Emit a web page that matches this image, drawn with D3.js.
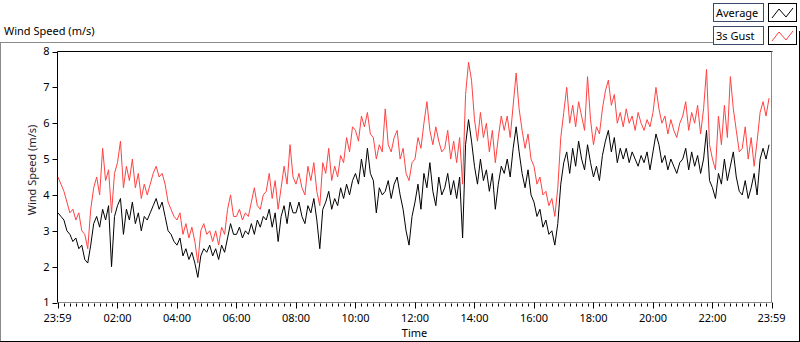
<!DOCTYPE html>
<html>
<head>
<meta charset="utf-8">
<script src="https://cdn.jsdelivr.net/npm/d3@7"></script>
<style>
  body { margin: 0; background: #fff; }
  svg { display: block; font-family: "Segoe UI", "Noto Sans", sans-serif; }
</style>
</head>
<body>
<script>
// one sample every 6 minutes, starting at 00:00
var stepMinutes = 6;

var average = [
  3.5, 3.4, 3.3, 3.0, 2.9, 2.7, 2.8, 2.5, 2.6, 2.2,
  2.1, 2.6, 3.2, 3.4, 3.1, 3.6, 3.3, 3.7, 2.0, 3.4,
  3.7, 3.9, 2.9, 3.6, 3.3, 3.8, 3.2, 3.5, 3.0, 3.4,
  3.3, 3.5, 3.7, 3.9, 3.6, 3.8, 3.4, 3.0, 2.9, 2.7,
  2.6, 2.8, 2.3, 2.5, 2.2, 2.4, 2.1, 1.7, 2.3, 2.5,
  2.4, 2.6, 2.3, 2.5, 2.2, 2.6, 2.4, 2.8, 3.2, 2.9,
  2.9, 3.1, 2.8, 3.0, 2.9, 3.2, 2.9, 3.3, 3.1, 3.4,
  3.3, 3.6, 3.1, 3.5, 2.7, 3.4, 3.7, 3.2, 3.8, 3.5,
  3.5, 3.8, 3.4, 3.2, 3.7, 3.5, 3.9, 3.3, 2.5, 3.6,
  3.8, 4.1, 3.6, 3.9, 3.7, 4.2, 3.9, 4.3, 4.0, 4.4,
  4.6, 4.3, 5.0, 4.5, 5.3, 4.6, 4.4, 3.5, 4.2, 4.0,
  4.1, 4.4, 3.9, 4.3, 4.5, 4.0, 3.6, 3.0, 2.6, 3.4,
  3.8, 4.3, 3.6, 4.6, 4.2, 4.9, 4.1, 3.7, 4.5, 4.0,
  4.2, 4.6, 4.0, 4.4, 3.9, 4.5, 2.8, 5.4, 6.1, 5.5,
  4.8, 4.3, 5.0, 4.4, 4.7, 4.1, 4.6, 3.6, 4.3, 4.8,
  4.6, 5.0, 4.5, 5.3, 5.9, 5.2, 4.6, 4.2, 4.7, 4.0,
  3.8, 3.4, 3.6, 3.1, 3.3, 2.9, 3.0, 2.6, 3.2, 4.3,
  4.9, 5.2, 4.6, 5.3, 4.8, 5.5, 5.0, 4.7, 5.4, 4.9,
  4.5, 4.8, 4.4, 5.1, 5.5, 5.8, 5.2, 5.6, 4.9, 5.3,
  5.0, 5.3, 4.9, 5.2, 5.0, 4.8, 5.1, 4.9, 5.2, 4.7,
  5.2, 5.7, 5.4, 4.9, 5.1, 4.7, 5.0, 4.8, 4.6, 4.9,
  5.0, 5.3, 4.7, 5.2, 4.8, 5.1, 4.6, 5.0, 5.8, 4.4,
  4.2, 3.9, 4.6, 4.3, 5.0, 4.4, 4.8, 5.2, 4.5, 4.1,
  4.0, 4.4, 3.9, 4.2, 4.6, 4.0, 5.0, 5.3, 5.0, 5.4
];

var gust = [
  4.5, 4.3, 4.1, 3.8, 3.5, 3.6, 3.3, 3.5, 3.0, 2.9,
  2.5, 3.6, 4.2, 4.5, 4.0, 5.3, 4.4, 4.7, 3.5, 4.6,
  4.9, 5.5, 4.2, 4.8, 4.4, 5.0, 4.2, 4.6, 3.9, 4.3,
  4.0, 4.3, 4.6, 4.8, 4.5, 4.6, 4.3, 3.8, 3.6, 3.4,
  3.3, 3.5, 2.9, 3.2, 2.8, 3.1, 2.7, 2.1, 3.0, 3.2,
  2.9, 3.0, 2.7, 3.0, 2.6, 3.1, 2.9, 3.6, 4.0, 3.4,
  3.4, 3.6, 3.3, 3.5, 3.4, 3.8, 4.2, 3.7, 3.6, 4.0,
  4.1, 4.6, 3.9, 4.4, 3.6, 4.2, 4.8, 4.3, 5.4, 4.5,
  4.3, 4.6, 4.2, 4.0, 4.8, 4.4, 4.9, 4.1, 3.7, 4.9,
  4.6, 5.3, 4.4, 4.8, 4.5, 5.1, 4.9, 5.6, 5.2, 5.9,
  5.8, 5.5, 6.2, 5.9, 6.3, 5.7, 5.6, 5.0, 5.4, 5.2,
  6.4, 5.4, 5.2, 5.6, 5.8, 5.0, 5.3, 4.6, 4.4, 4.9,
  5.0, 5.6, 5.3, 6.0, 6.6, 5.8, 5.4, 5.9, 5.5, 5.2,
  5.3, 5.8, 5.0, 5.5, 4.9, 5.6, 4.3, 6.8, 7.7, 7.2,
  6.1, 5.5, 6.3, 5.6, 6.0, 5.2, 5.8, 4.9, 5.6, 6.2,
  5.8, 6.2, 5.6, 6.5, 7.4, 6.4, 5.8, 5.3, 5.7, 5.0,
  4.8, 4.3, 4.5, 4.0, 4.1, 3.7, 3.9, 3.4, 4.2, 5.6,
  6.3, 7.0, 6.0, 6.5, 5.9, 6.6, 6.2, 5.8, 7.3, 6.1,
  5.4, 5.9, 5.7, 6.4, 6.9, 7.2, 6.5, 6.8, 6.0, 6.3,
  5.9, 6.4, 6.0, 6.2, 5.8, 6.3, 6.0, 5.8, 6.1, 5.9,
  6.3, 7.0, 6.4, 6.0, 6.2, 5.7, 6.1, 5.8, 5.6, 6.0,
  6.2, 6.6, 5.8, 6.3, 6.0, 6.5, 5.7, 6.4, 7.5, 5.4,
  5.0, 4.7, 6.2, 5.4, 6.5, 5.6, 7.3, 6.4, 5.8, 5.2,
  5.3, 5.9, 5.0, 5.6, 4.8, 5.5, 6.3, 6.6, 6.2, 6.7
];

var yTicks = [1, 2, 3, 4, 5, 6, 7, 8];
var xTickMinutes = [-1, 120, 240, 360, 480, 600, 720, 840, 960, 1080, 1200, 1320, 1439];
var xTickLabels = ['23:59', '02:00', '04:00', '06:00', '08:00', '10:00', '12:00',
  '14:00', '16:00', '18:00', '20:00', '22:00', '23:59'];
var legendNames = ['Average', '3s Gust'];
var seriesColors = ['#000000', '#ff4242'];

var width = 800, height = 342;
var plot = {left: 57.5, right: 771.5, top: 51.5, bottom: 302.5};
var fontSize = '11px';

var svg = d3.select('body').append('svg')
  .attr('width', width)
  .attr('height', height);

// outer frame of the chart
svg.append('line')
  .attr('x1', 0).attr('x2', 735).attr('y1', 42.5).attr('y2', 42.5)
  .attr('stroke', '#8a8a8a');
svg.append('line')
  .attr('x1', 0.5).attr('x2', 0.5).attr('y1', 42).attr('y2', 341)
  .attr('stroke', '#8a8a8a');
svg.append('line')
  .attr('x1', 0).attr('x2', 800).attr('y1', 341.5).attr('y2', 341.5)
  .attr('stroke', '#000');
svg.append('line')
  .attr('x1', 799.5).attr('x2', 799.5).attr('y1', 31).attr('y2', 342)
  .attr('stroke', '#000');

// title
svg.append('text')
  .attr('x', 4).attr('y', 35)
  .style('font-size', fontSize)
  .text('Wind Speed (m/s)');

var x = d3.scaleLinear()
  .domain([-1, 1439])
  .range([plot.left, plot.right]);

var y = d3.scaleLinear()
  .domain([1, 8])
  .range([plot.bottom, plot.top]);

// plot borders: black top/left, grey right/bottom
svg.append('line')
  .attr('x1', plot.left).attr('x2', plot.right + 1).attr('y1', plot.top).attr('y2', plot.top)
  .attr('stroke', '#000');
svg.append('line')
  .attr('x1', plot.left).attr('x2', plot.left).attr('y1', plot.top).attr('y2', plot.bottom)
  .attr('stroke', '#000');
svg.append('line')
  .attr('x1', plot.right).attr('x2', plot.right).attr('y1', plot.top).attr('y2', plot.bottom)
  .attr('stroke', '#8a8a8a');
svg.append('line')
  .attr('x1', plot.left).attr('x2', plot.right).attr('y1', plot.bottom).attr('y2', plot.bottom)
  .attr('stroke', '#8a8a8a');

// y axis
var yAxis = svg.append('g').attr('class', 'y-axis');
yAxis.selectAll('line')
  .data(yTicks)
  .enter()
  .append('line')
  .attr('x1', plot.left - 5).attr('x2', plot.left)
  .attr('y1', function(d) { return Math.round(y(d)) + 0.5; })
  .attr('y2', function(d) { return Math.round(y(d)) + 0.5; })
  .attr('stroke', '#000');
yAxis.selectAll('text')
  .data(yTicks)
  .enter()
  .append('text')
  .attr('x', plot.left - 8)
  .attr('y', function(d) { return y(d); })
  .attr('dy', '0.36em')
  .attr('text-anchor', 'end')
  .style('font-size', fontSize)
  .text(function(d) { return d; });

svg.append('text')
  .attr('transform', 'translate(36,170) rotate(-90)')
  .attr('text-anchor', 'middle')
  .style('font-size', fontSize)
  .style('fill', '#1c1c2c')
  .text('Wind Speed (m/s)');

// x axis ticks (minor every 12 minutes)
var minorTicks = d3.range(12, 1439, 12).filter(function(m) { return m % 120 !== 0; });
var xAxis = svg.append('g').attr('class', 'x-axis');
xAxis.selectAll('line.minor')
  .data(minorTicks)
  .enter()
  .append('line')
  .classed('minor', true)
  .attr('x1', function(d) { return Math.round(x(d)) + 0.5; })
  .attr('x2', function(d) { return Math.round(x(d)) + 0.5; })
  .attr('y1', plot.bottom + 1).attr('y2', plot.bottom + 4)
  .attr('stroke', '#000');
xAxis.selectAll('line.major')
  .data(xTickMinutes)
  .enter()
  .append('line')
  .classed('major', true)
  .attr('x1', function(d) { return Math.round(x(d)) + 0.5; })
  .attr('x2', function(d) { return Math.round(x(d)) + 0.5; })
  .attr('y1', plot.bottom).attr('y2', plot.bottom + 6)
  .attr('stroke', '#000');
xAxis.selectAll('text')
  .data(xTickMinutes)
  .enter()
  .append('text')
  .attr('x', function(d) { return x(d); })
  .attr('y', 322)
  .attr('text-anchor', 'middle')
  .style('font-size', fontSize)
  .text(function(d, i) { return xTickLabels[i]; });

svg.append('text')
  .attr('x', (plot.left + plot.right) / 2)
  .attr('y', 337)
  .attr('text-anchor', 'middle')
  .style('font-size', fontSize)
  .text('Time');

// the two traces
var line = d3.line()
  .x(function(d, i) { return x(i * stepMinutes); })
  .y(function(d) { return y(d); });

var plots = svg.append('g').attr('fill', 'none').attr('stroke-width', 1);
[average, gust].forEach(function(series, i) {
  plots.append('path')
    .datum(series)
    .attr('stroke', seriesColors[i])
    .attr('d', line);
});

// legend
var legend = svg.append('g').attr('class', 'legend');
var legendRows = legend.selectAll('g')
  .data(legendNames)
  .enter()
  .append('g')
  .attr('transform', function(d, i) { return 'translate(713,' + (3 + i * 23) + ')'; });

legendRows.append('rect')
  .attr('x', 0.5).attr('y', 0.5)
  .attr('width', 50).attr('height', 18)
  .attr('fill', '#fff')
  .attr('stroke', '#3a4a6a');
legendRows.append('text')
  .attr('x', 3).attr('y', 14)
  .style('font-size', fontSize)
  .text(function(d) { return d; });
legendRows.append('rect')
  .attr('x', 55.5).attr('y', 0.5)
  .attr('width', 28).attr('height', 18)
  .attr('fill', '#fff')
  .attr('stroke', '#000');
legendRows.append('path')
  .attr('d', 'M59,15 L66,6 L73,14 L80,5')
  .attr('fill', 'none')
  .attr('stroke', function(d, i) { return seriesColors[i]; });
</script>
</body>
</html>
